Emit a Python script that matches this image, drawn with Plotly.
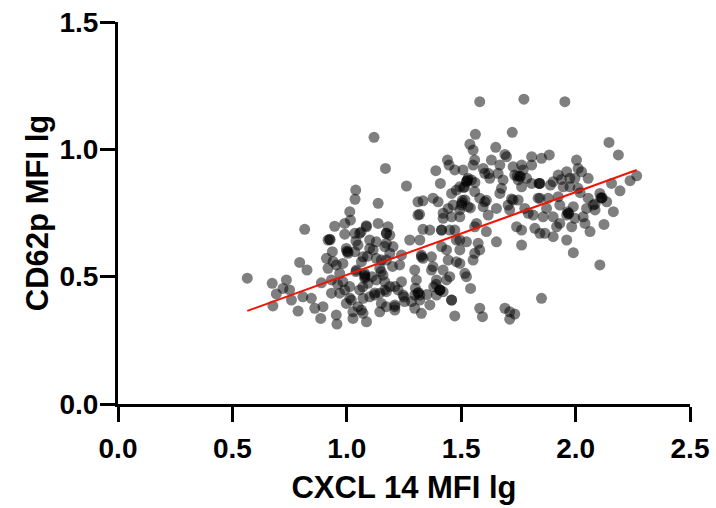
import numpy as np
import plotly.graph_objects as go

# CXCL14 MFI lg (x) and CD62p MFI lg (y)
cxcl14 = [
    0.565, 0.674, 0.736, 0.721, 0.692, 0.750, 0.677, 0.758, 0.787, 0.816, 0.794, 0.826, 0.808, 0.845, 0.860, 0.896,
    0.886, 0.889, 0.918, 0.925, 0.911, 0.937, 0.918, 0.954, 0.933, 0.933, 0.954, 0.957, 0.947, 0.991, 0.991, 1.013,
    1.016, 1.039, 1.036, 0.998, 1.005, 0.983, 0.969, 0.983, 0.969, 0.991, 1.013, 0.998, 1.020, 1.027, 1.027, 1.049,
    1.071, 1.086, 1.056, 1.062, 1.086, 1.049, 1.035, 1.071, 1.064, 1.042, 1.078, 1.078, 1.056, 1.093, 1.100, 1.071,
    1.137, 1.137, 1.100, 1.129, 1.115, 1.100, 1.129, 1.151, 1.144, 1.158, 1.129, 1.122, 1.144, 1.151, 1.144, 1.173,
    1.180, 1.173, 1.188, 1.173, 1.202, 1.188, 1.173, 1.166, 1.188, 1.173, 1.210, 1.210, 1.210, 1.231, 1.239, 1.239,
    1.224, 1.246, 1.253, 1.275, 1.261, 1.311, 1.333, 1.311, 1.318, 1.319, 1.333, 1.326, 1.333, 1.297, 1.304, 1.311,
    1.297, 1.283, 1.319, 1.297, 1.326, 1.363, 1.363, 1.370, 1.370, 1.392, 1.406, 1.392, 1.421, 1.414, 1.421, 1.414,
    1.436, 1.443, 1.421, 1.450, 1.436, 1.458, 1.472, 1.450, 1.458, 1.479, 1.494, 1.479,
    1.458, 1.479, 1.465, 1.494, 1.119, 1.169, 1.440, 1.447, 1.472, 1.389, 1.409, 1.377, 1.399, 1.443,
    1.581, 1.774, 1.953, 1.562, 1.723, 2.146, 2.187, 1.538, 1.552, 1.651, 1.691, 1.698, 1.632, 1.559, 1.552, 1.596,
    1.669, 1.727, 1.764, 1.771, 1.808, 1.851, 1.885, 1.808, 1.530, 1.523, 1.545, 1.516, 1.603, 1.625, 1.661, 1.683,
    1.734, 1.756, 1.749, 1.786, 1.844, 1.764, 1.808, 1.676, 1.669, 1.559, 1.581, 1.603, 1.516, 1.501, 1.530, 1.596,
    1.654, 1.705, 1.727, 1.749, 1.712, 1.778, 1.793, 1.815, 1.844, 1.880, 1.873, 1.902, 1.924, 1.961, 1.997, 2.011,
    2.004, 2.026, 2.055, 1.975, 1.946, 2.011, 1.924, 1.931, 1.961, 1.968, 1.990, 1.997, 1.983, 1.931, 1.902, 1.917,
    1.961, 1.990, 2.033, 2.055, 2.048, 2.077, 2.085, 2.041, 2.063, 2.106, 2.114, 2.136, 2.165, 2.124, 2.106, 2.157,
    2.194, 2.238, 2.267, 1.851, 1.581, 1.593, 1.691, 1.712, 1.712, 1.734, 1.844, 1.866, 1.902, 1.822, 1.764, 1.764,
    1.742, 1.858, 1.836, 1.654, 1.610, 1.618, 1.567, 1.559, 1.523, 1.574, 1.581, 1.559, 1.552, 1.516, 1.523, 1.541,
    1.494, 1.494, 1.508, 1.494, 1.938, 1.975,
    1.525, 1.758, 1.842, 1.970, 2.116, 1.503, 0.927, 1.080, 1.313, 1.408, 1.085, 1.040, 1.000, 1.150, 1.380,
    1.078, 1.005, 1.013, 1.064, 1.166, 1.122, 1.210, 1.319, 1.406, 1.458, 1.035, 1.173, 1.166, 1.326, 1.377,
    1.421, 1.494, 1.472, 1.414, 1.070, 0.960, 1.040, 1.110, 1.250, 1.350, 1.390, 1.300, 0.940, 1.090, 1.200,
    1.528, 1.540, 1.505, 1.745, 1.840, 1.965, 2.110, 2.085, 1.720, 1.610, 1.510, 1.620, 1.890, 2.020, 1.560,
]
cd62p = [
    0.494, 0.474, 0.487, 0.454, 0.432, 0.448, 0.385, 0.408, 0.365, 0.686, 0.556, 0.526, 0.421, 0.415, 0.376, 0.382,
    0.336, 0.476, 0.644, 0.647, 0.572, 0.598, 0.533, 0.546, 0.487, 0.435, 0.349, 0.314, 0.698, 0.709, 0.667, 0.755,
    0.722, 0.840, 0.804, 0.611, 0.598, 0.552, 0.513, 0.480, 0.435, 0.448, 0.461, 0.395, 0.408, 0.362, 0.336, 0.382,
    0.356, 0.323, 0.670, 0.675, 0.696, 0.624, 0.598, 0.578, 0.559, 0.526, 0.513, 0.494, 0.448, 0.474, 0.421, 0.415,
    0.788, 0.709, 0.644, 0.637, 0.605, 0.611, 0.572, 0.565, 0.533, 0.506, 0.487, 0.428, 0.435, 0.395, 0.362, 0.382,
    0.696, 0.670, 0.663, 0.631, 0.618, 0.592, 0.565, 0.480, 0.461, 0.441, 0.461, 0.389, 0.369, 0.546, 0.585, 0.480,
    0.448, 0.428, 0.402, 0.644, 0.856, 0.794, 0.798, 0.742, 0.745, 0.644, 0.686, 0.585, 0.572, 0.526, 0.487, 0.435,
    0.428, 0.402, 0.408, 0.376, 0.356, 0.389, 0.683, 0.578, 0.526, 0.487, 0.448, 0.428, 0.441, 0.683, 0.729, 0.618,
    0.605, 0.565, 0.526, 0.500, 0.487, 0.408, 0.346, 0.683, 0.735, 0.644, 0.605, 0.559,
    0.827, 0.840, 0.781, 0.762, 1.047, 0.925, 0.958, 0.938, 0.919, 0.916, 0.866, 0.808, 0.794, 0.768,
    1.187, 1.197, 1.187, 1.059, 1.067, 1.027, 0.978, 1.020, 0.997, 1.008, 0.980, 0.971, 0.958, 0.958, 0.938, 0.925,
    0.938, 0.932, 0.938, 0.919, 0.971, 0.965, 0.978, 0.938, 0.886, 0.873, 0.880, 0.853, 0.906, 0.886, 0.906, 0.880,
    0.899, 0.895, 0.880, 0.886, 0.866, 0.853, 0.866, 0.847, 0.827, 0.834, 0.808, 0.794, 0.801, 0.781, 0.775, 0.775,
    0.768, 0.781, 0.801, 0.801, 0.762, 0.768, 0.749, 0.742, 0.808, 0.808, 0.768, 0.873, 0.899, 0.912, 0.886, 0.925,
    0.958, 0.912, 0.886, 0.853, 0.853, 0.847, 0.814, 0.781, 0.742, 0.749, 0.775, 0.729, 0.696, 0.709, 0.735, 0.696,
    0.644, 0.594, 0.735, 0.808, 0.768, 0.781, 0.762, 0.709, 0.677, 0.827, 0.808, 0.794, 0.755, 0.705, 0.546, 0.866,
    0.837, 0.877, 0.896, 0.415, 0.376, 0.343, 0.376, 0.362, 0.333, 0.353, 0.670, 0.670, 0.657, 0.690, 0.683, 0.624,
    0.696, 0.735, 0.808, 0.637, 0.677, 0.742, 0.709, 0.696, 0.637, 0.631, 0.605, 0.592, 0.565, 0.513, 0.500, 0.454,
    0.552, 0.853, 0.919, 0.644, 0.882, 0.886,
    0.875, 0.893, 0.866, 0.748, 0.810, 0.790, 0.645, 0.500, 0.438, 0.448, 0.700, 0.640, 0.600, 0.520, 0.460,
    0.506, 0.592, 0.416, 0.369, 0.448, 0.436, 0.382, 0.428, 0.448, 0.408, 0.670, 0.670, 0.618, 0.578, 0.539,
    0.749, 0.735, 0.683, 0.683, 0.460, 0.470, 0.520, 0.500, 0.420, 0.430, 0.470, 0.455, 0.560, 0.580, 0.540,
    0.880, 0.770, 0.800, 0.895, 0.866, 0.755, 0.810, 0.785, 0.805, 0.800, 0.850, 0.905, 0.860, 0.830, 0.870,
]

x_ticks = [0.0, 0.5, 1.0, 1.5, 2.0, 2.5]
y_ticks = [0.0, 0.5, 1.0, 1.5]

# regression line (slope and intercept)
fit_slope = 0.325
fit_intercept = 0.182

x = np.array(cxcl14)
y = np.array(cd62p)
fit_x = np.array([x.min(), x.max()])
fit_y = fit_slope * fit_x + fit_intercept

font_family = "Liberation Sans, Arial, sans-serif"

fig = go.Figure()
fig.add_trace(go.Scatter(
    x=x, y=y, mode="markers",
    marker=dict(size=11, color="rgba(0,0,0,0.5)", line=dict(width=0)),
    showlegend=False, hoverinfo="skip",
))
fig.add_trace(go.Scatter(
    x=fit_x, y=fit_y, mode="lines",
    line=dict(color="rgb(240,20,5)", width=2),
    showlegend=False, hoverinfo="skip",
))

axis_common = dict(
    showgrid=False, zeroline=False, showline=True, linecolor="black", linewidth=3,
    ticks="outside", ticklen=15, tickwidth=3, tickcolor="black",
    tickfont=dict(family=font_family, size=28, color="black", weight="bold"),
    tickmode="array", tickformat=".1f", automargin=False,
)
fig.update_xaxes(range=[0, 2.5], tickvals=x_ticks, ticklabelstandoff=2,
                 title=dict(text="CXCL 14 MFI lg", standoff=14,
                            font=dict(family=font_family, size=31, color="black", weight="bold")),
                 **axis_common)
fig.update_yaxes(range=[0, 1.5], tickvals=y_ticks, ticklabelstandoff=-4,
                 title=dict(text="CD62p MFI lg", standoff=2,
                            font=dict(family=font_family, size=31, color="black", weight="bold")),
                 **axis_common)
fig.update_layout(
    width=716, height=508,
    margin=dict(l=118, r=26, t=22, b=104),
    plot_bgcolor="white", paper_bgcolor="white",
)
fig.write_html("out.html", config={"displayModeBar": False},
               post_script="document.body.style.margin='0';")
